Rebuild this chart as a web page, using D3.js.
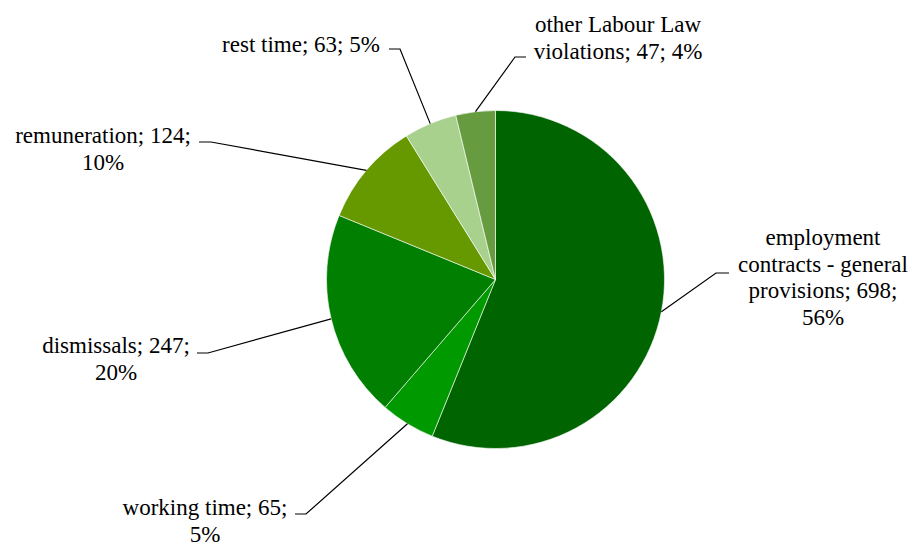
<!DOCTYPE html>
<html>
<head>
<meta charset="utf-8">
<script src="https://cdn.jsdelivr.net/npm/d3@7"></script>
<style>
  body { margin: 0; background: #fff; }
</style>
</head>
<body>
<div id="chart"></div>
<script>
// data
var categories = ["employment contracts - general provisions", "working time", "dismissals",
  "remuneration", "rest time", "other Labour Law violations"];
var values = [698, 65, 247, 124, 63, 47];
var percents = ["56%", "5%", "20%", "10%", "5%", "4%"];
var colors = ["#006400", "#009900", "#007f00", "#669900", "#a9d18e", "#669c3f"];

// label text lines (as wrapped in the original)
var labelLines = [
  ["employment", "contracts - general", "provisions; 698;", "56%"],
  ["working time; 65;", "5%"],
  ["dismissals; 247;", "20%"],
  ["remuneration; 124;", "10%"],
  ["rest time; 63; 5%"],
  ["other Labour Law", "violations; 47; 4%"]
];

// label layout: text centre x, first baseline y, elbow point, end of short horizontal
var labelLayout = [
  {cx: 823, by: 245, ex: 716, ey: 273, hx: 729},
  {cx: 205, by: 515, ex: 306, ey: 514, hx: 295},
  {cx: 116, by: 353, ex: 208, ey: 353, hx: 197},
  {cx: 103, by: 143, ex: 211, ey: 142, hx: 199},
  {cx: 301, by: 52, ex: 400, ey: 49, hx: 389},
  {cx: 618, by: 32, ex: 515, ey: 57, hx: 526}
];

const w = 912;
const h = 545;
const cx = 495.5, cy = 279.5, r = 169;
const lineH = 26.5;

var svg = d3.select("#chart").append("svg")
  .attr("width", w)
  .attr("height", h);

var pie = d3.pie().sort(null).value(d => d);
var arcs = pie(values);

var arc = d3.arc().innerRadius(0).outerRadius(r);
var edge = d3.arc().innerRadius(r).outerRadius(r);

var g = svg.append("g").attr("transform", "translate(" + cx + "," + cy + ")");

g.selectAll("path")
  .data(arcs)
  .enter()
  .append("path")
  .attr("d", arc)
  .attr("fill", (d, i) => colors[i])
  .attr("stroke", "#ffffff")
  .attr("stroke-width", 0.6);

// leader lines
svg.selectAll(".leader")
  .data(arcs)
  .enter()
  .append("polyline")
  .attr("class", "leader")
  .attr("fill", "none")
  .attr("stroke", "#000")
  .attr("stroke-width", 1.2)
  .attr("points", function(d, i) {
    var p = edge.centroid(d);
    var L = labelLayout[i];
    return [[cx + p[0], cy + p[1]], [L.ex, L.ey], [L.hx, L.ey]].map(q => q.join(",")).join(" ");
  });

// labels
svg.selectAll(".label")
  .data(arcs)
  .enter()
  .append("text")
  .attr("class", "label")
  .attr("text-anchor", "middle")
  .attr("font-family", "'Liberation Serif'")
  .attr("font-size", 23)
  .attr("fill", "#000")
  .each(function(d, i) {
    var L = labelLayout[i];
    d3.select(this).selectAll("tspan")
      .data(labelLines[i])
      .enter()
      .append("tspan")
      .attr("x", L.cx)
      .attr("y", (t, j) => L.by + j * lineH)
      .text(t => t);
  });
</script>
</body>
</html>
